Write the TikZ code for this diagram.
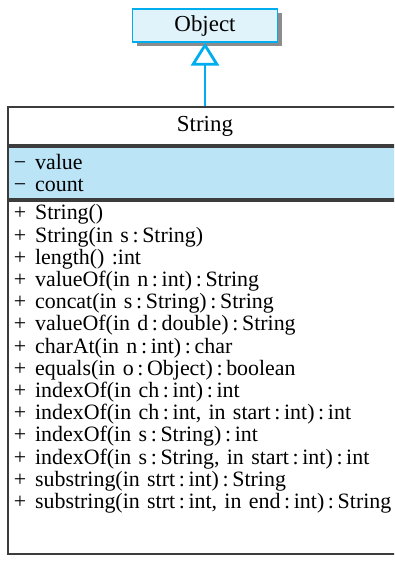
\documentclass[tikz,border=0pt]{standalone}
\usepackage{fontspec}
\setmainfont{Liberation Serif}
\usetikzlibrary{arrows.meta,positioning,shadows}

\definecolor{umlcyan}{RGB}{0,174,239}
\definecolor{objfill}{RGB}{224,243,251}
\definecolor{attrfill}{RGB}{187,228,247}
\definecolor{classline}{RGB}{60,60,60}

\newcommand{\pub}{+\hspace{0.4em}}
\newcommand{\priv}{−\hspace{0.4em}}
\newcommand{\tcolon}{\,:\,}

\begin{document}
\begin{tikzpicture}[
    x=1bp, y=-1bp,
    font=\fontsize{22}{22.3}\selectfont,
    objbox/.style={rectangle, draw=umlcyan, fill=objfill, line width=1.2bp,
                   minimum width=145bp, minimum height=33bp, inner sep=0pt,
                   font=\fontsize{23}{24}\selectfont,
                   drop shadow={shadow xshift=4bp, shadow yshift=-4bp,
                                fill=black!45, opacity=1}},
    classbox/.style={rectangle, draw=classline, line width=1.8bp,
                     minimum width=394bp, inner sep=0pt},
    members/.style={classbox, align=left, text width=382bp,
                    inner xsep=6bp, inner ysep=4bp},
    inherit/.style={-{Triangle[open, length=23bp, width=28bp]},
                    draw=umlcyan, line width=2.8bp}
  ]
    \useasboundingbox (0,0) rectangle (394,561);
    \clip (0,0) rectangle (394,561);

    \node[objbox] (obj) at (205,25.5) {Object};
    \node[classbox, minimum height=38bp, font=\fontsize{23}{24}\selectfont]
      (str) at (205,126) {String};
    \node[members, fill=attrfill, minimum height=52bp, anchor=north]
      (attrs) at (str.south) {\priv value\\ \priv count};
    \node[members, anchor=north, text depth=330bp] (ops) at (attrs.south) {%
      \pub String()\\
      \pub String(in s\tcolon String)\\
      \pub length() :int\\
      \pub valueOf(in n\tcolon int)\tcolon String\\
      \pub concat(in s\tcolon String)\tcolon String\\
      \pub valueOf(in d\tcolon double)\tcolon String\\
      \pub charAt(in n\tcolon int)\tcolon char\\
      \pub equals(in o\tcolon Object)\tcolon boolean\\
      \pub indexOf(in ch\tcolon int)\tcolon int\\
      \pub indexOf(in ch\tcolon int, in start\tcolon int)\tcolon int\\
      \pub indexOf(in s\tcolon String)\tcolon int\\
      \pub indexOf(in s\tcolon String, in start\tcolon int)\tcolon int\\
      \pub substring(in strt\tcolon int)\tcolon String\\
      \pub substring(in strt\tcolon int, in end\tcolon int)\tcolon String};

    \draw[inherit] (str) -- (obj);
\end{tikzpicture}
\end{document}
